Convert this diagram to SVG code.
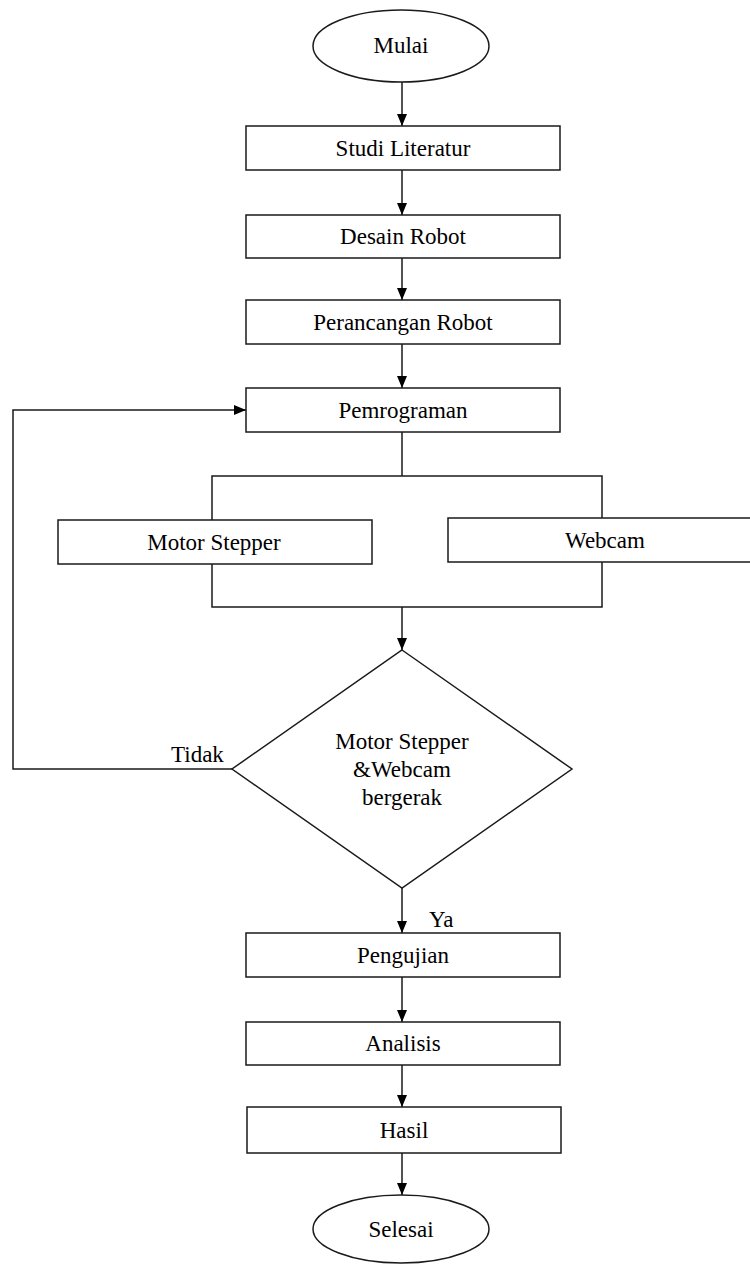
<svg xmlns="http://www.w3.org/2000/svg" width="750" height="1264" viewBox="0 0 750 1264">
<style>
.s{fill:#fff;stroke:#1a1a1a;stroke-width:1.5}
.c{fill:none;stroke:#1a1a1a;stroke-width:1.5}
text{font-family:"Liberation Serif","Times New Roman",serif;font-size:23px;fill:#000;text-anchor:middle}
.l{text-anchor:start}
</style>
<defs>
<marker id="ah" markerUnits="userSpaceOnUse" markerWidth="12" markerHeight="10" refX="12" refY="5" orient="auto">
<path d="M0,0 L12,5 L0,10 z" fill="#000"/>
</marker>
</defs>
<g id="connectors">
<line class="c" x1="402" y1="82" x2="402" y2="126" marker-end="url(#ah)"/>
<line class="c" x1="402" y1="170" x2="402" y2="215" marker-end="url(#ah)"/>
<line class="c" x1="402" y1="258" x2="402" y2="300" marker-end="url(#ah)"/>
<line class="c" x1="402" y1="344" x2="402" y2="388" marker-end="url(#ah)"/>
<polyline class="c" points="402,432 402,476"/>
<polyline class="c" points="212,520 212,476 602,476 602,518"/>
<polyline class="c" points="212,564 212,607 602,607 602,562"/>
<line class="c" x1="402" y1="607" x2="402" y2="650" marker-end="url(#ah)"/>
<polyline class="c" points="232,769 13,769 13,410 246,410" marker-end="url(#ah)"/>
<line class="c" x1="402" y1="888" x2="402" y2="933" marker-end="url(#ah)"/>
<line class="c" x1="402" y1="977" x2="402" y2="1022" marker-end="url(#ah)"/>
<line class="c" x1="402" y1="1065" x2="402" y2="1107" marker-end="url(#ah)"/>
<line class="c" x1="402" y1="1153" x2="402" y2="1195" marker-end="url(#ah)"/>
<text class="l" x="171" y="762">Tidak</text>
<text class="l" x="429" y="927">Ya</text>
</g>
<g id="mulai"><ellipse class="s" cx="401" cy="46" rx="88" ry="36"/><text x="401" y="53">Mulai</text></g>
<g id="studi"><rect class="s" x="246" y="126" width="314" height="44"/><text x="403" y="156">Studi Literatur</text></g>
<g id="desain"><rect class="s" x="246" y="215" width="314" height="43"/><text x="403" y="244">Desain Robot</text></g>
<g id="perancangan"><rect class="s" x="246" y="300" width="314" height="44"/><text x="403" y="330">Perancangan Robot</text></g>
<g id="pemrograman"><rect class="s" x="246" y="388" width="314" height="44"/><text x="403" y="418">Pemrograman</text></g>
<g id="motor"><rect class="s" x="58" y="520" width="314" height="44"/><text x="214" y="550">Motor Stepper</text></g>
<g id="webcam"><rect class="s" x="448" y="518" width="314" height="44"/><text x="605" y="548">Webcam</text></g>
<g id="decision"><polygon class="s" points="402,650 572,769 402,888 232,769"/>
<text x="402" y="749">Motor Stepper</text><text x="402" y="777">&amp;Webcam</text><text x="402" y="805">bergerak</text></g>
<g id="pengujian"><rect class="s" x="246" y="933" width="314" height="44"/><text x="403" y="963">Pengujian</text></g>
<g id="analisis"><rect class="s" x="246" y="1022" width="314" height="43"/><text x="403" y="1051">Analisis</text></g>
<g id="hasil"><rect class="s" x="247" y="1107" width="314" height="46"/><text x="404" y="1138">Hasil</text></g>
<g id="selesai"><ellipse class="s" cx="401" cy="1229" rx="88" ry="34"/><text x="401" y="1237">Selesai</text></g>
</svg>
